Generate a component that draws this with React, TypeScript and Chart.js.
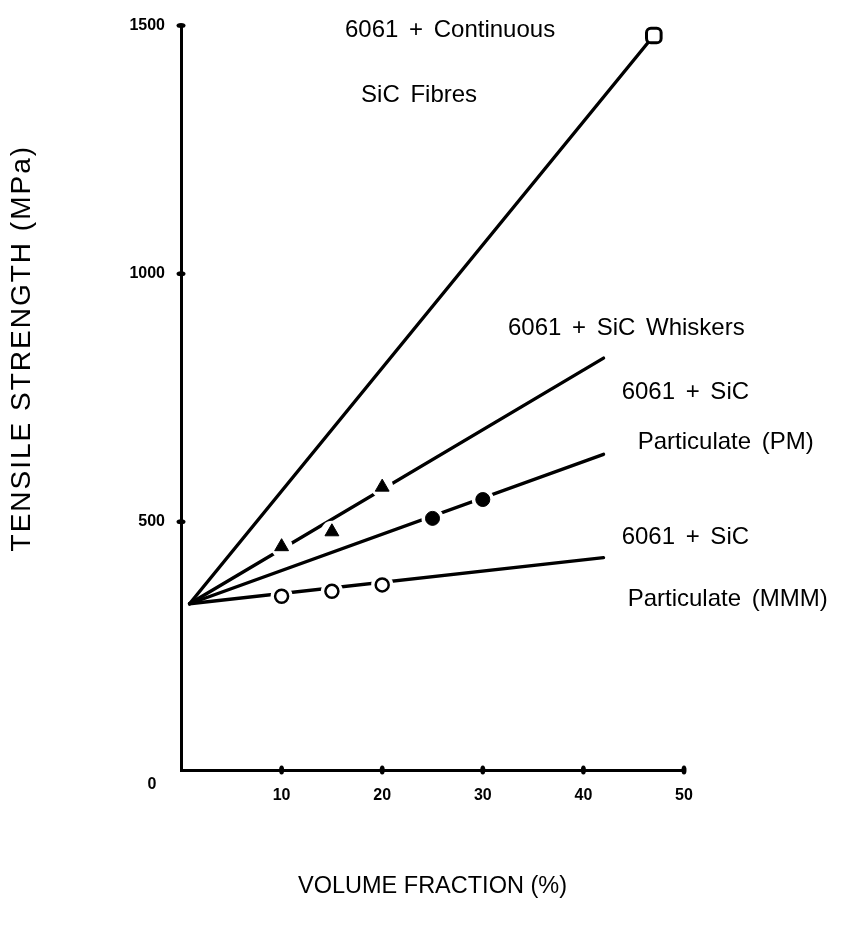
import React, { useEffect, useRef } from 'react';
import { Chart, registerables } from 'chart.js';

Chart.register(...registerables);

// ---- data ----
const X_TICK_VALUES = [10, 20, 30, 40, 50];
const Y_TICK_VALUES = [500, 1000, 1500];

const fibresLine = [{ x: 0.85, y: 335 }, { x: 47, y: 1480 }];
const whiskersLine = [{ x: 0.85, y: 335 }, { x: 42, y: 830 }];
const pmLine = [{ x: 0.85, y: 335 }, { x: 42, y: 636 }];
const mmmLine = [{ x: 0.85, y: 335 }, { x: 42, y: 428 }];

const fibrePoints = [{ x: 47, y: 1480 }];
const whiskerPoints = [{ x: 10, y: 450 }, { x: 15, y: 480 }, { x: 20, y: 570 }];
const pmPoints = [{ x: 25, y: 507 }, { x: 30, y: 545 }];
const mmmPoints = [{ x: 10, y: 350 }, { x: 15, y: 360 }, { x: 20, y: 373 }];

const NOTE_TEXTS = [
  '6061 + Continuous',
  'SiC Fibres',
  '6061 + SiC Whiskers',
  '6061 + SiC',
  'Particulate (PM)',
  '6061 + SiC',
  'Particulate (MMM)',
];
// anchor (left, middle) of each note, in data units
const NOTE_X = [16.3, 17.9, 32.5, 43.8, 45.4, 43.8, 44.4];
const NOTE_Y = [1490, 1360, 890, 760, 660, 468, 344];

const Y_TITLE = 'TENSILE STRENGTH (MPa)';
const X_TITLE = 'VOLUME FRACTION (%)';

const FAMILY = '"Liberation Sans", Arial, sans-serif';
const TICK_FONT = { family: FAMILY, size: 16, weight: 'bold' as const };

const decorPlugin = {
  id: 'decor',
  afterDraw(chart: any) {
    const { ctx, scales } = chart;
    const xs = scales.x;
    const ys = scales.y;
    const y0 = ys.getPixelForValue(0);
    const x0 = xs.getPixelForValue(0);
    ctx.save();
    ctx.fillStyle = '#000';
    X_TICK_VALUES.forEach((v) => {
      const px = xs.getPixelForValue(v);
      ctx.beginPath();
      ctx.ellipse(px, y0, 2.5, 4.5, 0, 0, Math.PI * 2);
      ctx.fill();
    });
    Y_TICK_VALUES.forEach((v) => {
      const py = ys.getPixelForValue(v);
      ctx.beginPath();
      ctx.ellipse(x0, py, 4.5, 2.5, 0, 0, Math.PI * 2);
      ctx.fill();
    });
    // origin label
    ctx.font = 'bold 16px ' + FAMILY;
    ctx.textAlign = 'center';
    ctx.textBaseline = 'middle';
    ctx.fillText('0', x0 - 29, y0 + 15);
    // notes
    ctx.font = '24px ' + FAMILY;
    ctx.textAlign = 'left';
    (ctx as any).wordSpacing = '4px';
    NOTE_TEXTS.forEach((t, i) => {
      ctx.fillText(t, xs.getPixelForValue(NOTE_X[i]), ys.getPixelForValue(NOTE_Y[i]));
    });
    (ctx as any).wordSpacing = '0px';
    // y axis title
    ctx.translate(22, ys.getPixelForValue(850));
    ctx.rotate(-Math.PI / 2);
    ctx.font = '28px ' + FAMILY;
    (ctx as any).letterSpacing = '2px';
    ctx.textAlign = 'center';
    ctx.fillText(Y_TITLE, 0, 0);
    ctx.restore();
  },
};

function lineDs(data: any[]) {
  return {
    type: 'line' as const,
    data,
    borderColor: '#000',
    borderWidth: 3.4,
    borderCapStyle: 'round' as const,
    pointRadius: 0,
    showLine: true,
    fill: false,
    order: 2,
  };
}

export default function App() {
  const ref = useRef<HTMLCanvasElement | null>(null);
  useEffect(() => {
    if (!ref.current) return;
    const haloData = [...whiskerPoints, ...pmPoints, ...mmmPoints];
    const chart = new Chart(ref.current, {
      type: 'scatter',
      data: {
        datasets: [
          lineDs(fibresLine),
          lineDs(whiskersLine),
          lineDs(pmLine),
          lineDs(mmmLine),
          {
            data: haloData,
            pointStyle: 'circle',
            pointRadius: 11,
            backgroundColor: '#fff',
            borderColor: '#fff',
            borderWidth: 0,
            order: 1,
          } as any,
          {
            data: whiskerPoints,
            pointStyle: 'triangle',
            pointRadius: 8,
            backgroundColor: '#000',
            borderColor: '#000',
            borderWidth: 1,
            order: 0,
          } as any,
          {
            data: pmPoints,
            pointStyle: 'circle',
            pointRadius: 7,
            backgroundColor: '#000',
            borderColor: '#000',
            borderWidth: 1,
            order: 0,
          } as any,
          {
            data: mmmPoints,
            pointStyle: 'circle',
            pointRadius: 6.5,
            backgroundColor: '#fff',
            borderColor: '#000',
            borderWidth: 2.5,
            order: 0,
          } as any,
          {
            data: fibrePoints,
            pointStyle: 'rectRounded',
            pointRadius: 8.5,
            backgroundColor: '#fff',
            borderColor: '#000',
            borderWidth: 3,
            order: 0,
          } as any,
        ],
      },
      options: {
        animation: false,
        responsive: false,
        devicePixelRatio: 1,
        events: [],
        layout: { padding: { left: 0, top: 20, right: 171, bottom: 40 } },
        plugins: { legend: { display: false }, tooltip: { enabled: false } },
        scales: {
          x: {
            type: 'linear',
            min: 0,
            max: 50,
            afterFit: (s: any) => { s.height = 131; },
            ticks: {
              stepSize: 10,
              padding: 16,
              color: '#000',
              font: TICK_FONT,
              maxRotation: 0,
              autoSkip: false,
              callback: (v: any) => (v === 0 ? '' : String(v)),
            },
            grid: { display: false, drawTicks: false },
            border: { display: true, width: 3, color: '#000' },
            title: {
              display: true,
              text: X_TITLE,
              color: '#000',
              font: { family: FAMILY, size: 23.5 },
              padding: { top: 0, bottom: 0 },
            },
          },
          y: {
            type: 'linear',
            min: 0,
            max: 1500,
            afterFit: (s: any) => { s.width = 181; },
            ticks: {
              stepSize: 500,
              padding: 16,
              color: '#000',
              font: TICK_FONT,
              callback: (v: any) => (v === 0 ? '' : String(v)),
            },
            grid: { display: false, drawTicks: false },
            border: { display: true, width: 3, color: '#000' },
            title: { display: false },
          },
        },
      },
      plugins: [decorPlugin],
    } as any);
    return () => chart.destroy();
  }, []);
  return (
    <div style={{ position: 'absolute', left: 0, top: 0, width: 855, height: 941, background: '#fff' }}>
      <canvas ref={ref} width={855} height={941} style={{ display: 'block', width: 855, height: 941 }} />
    </div>
  );
}
